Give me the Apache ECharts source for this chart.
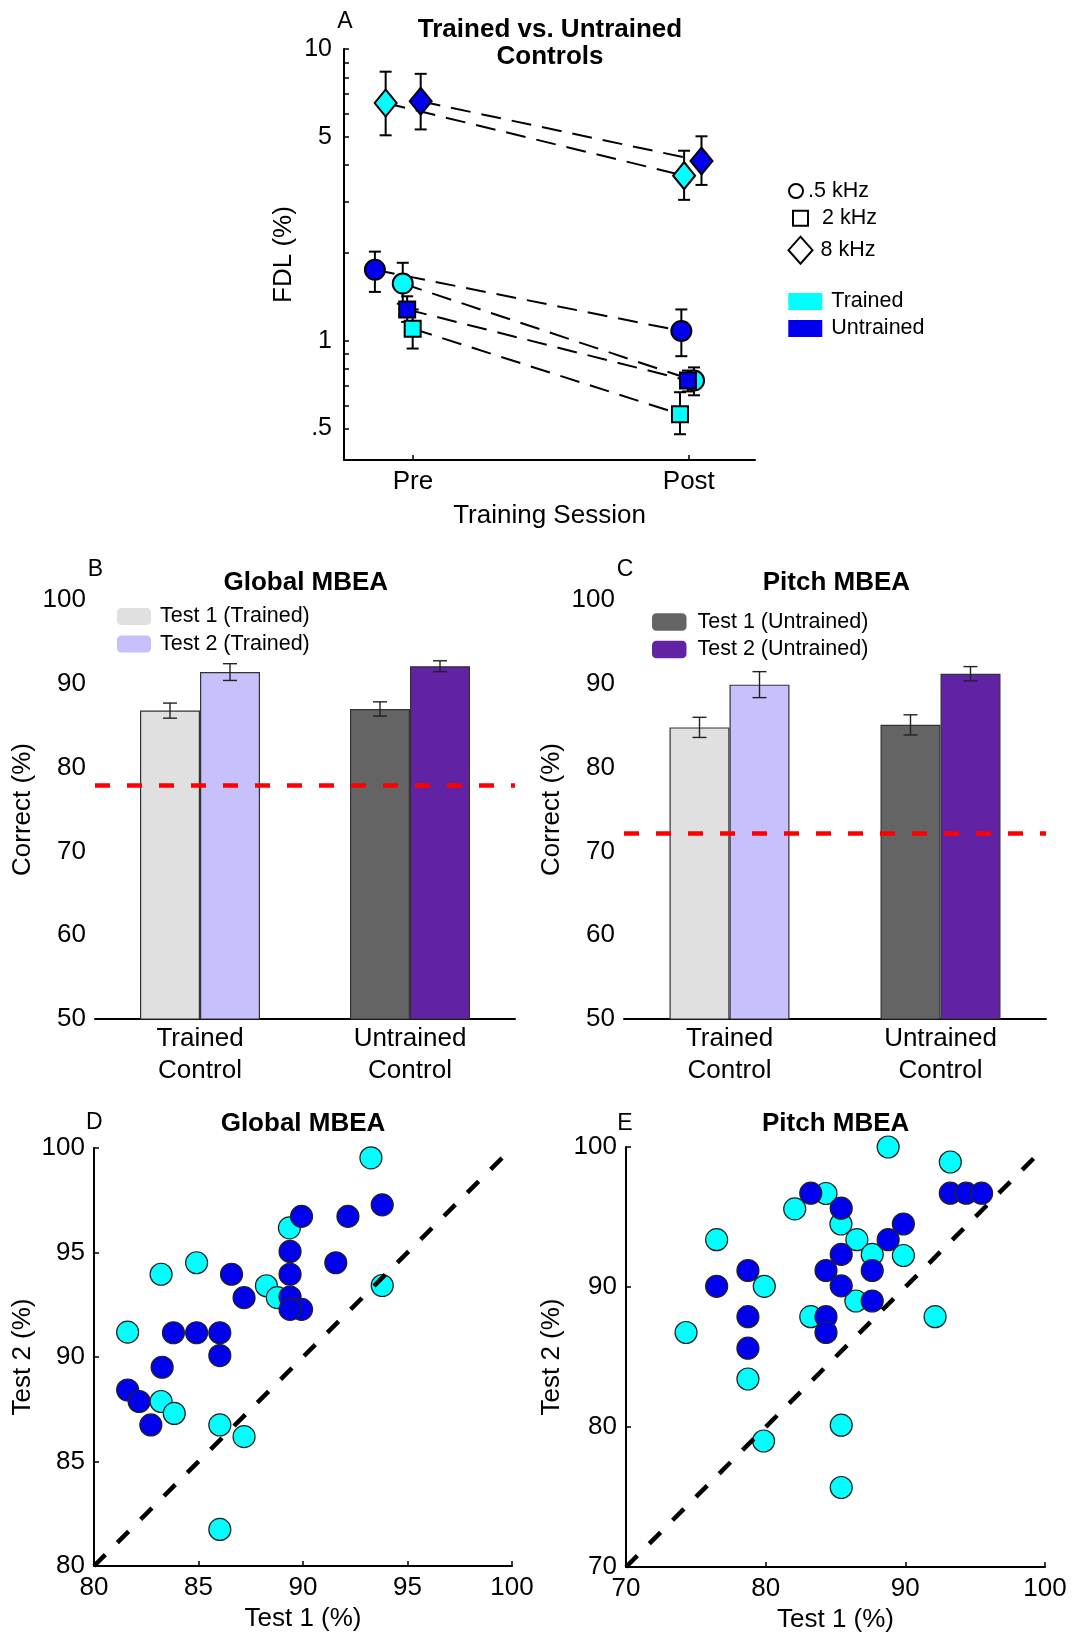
<!DOCTYPE html>
<html>
<head>
<meta charset="utf-8">
<script src="https://cdn.jsdelivr.net/npm/echarts@6/dist/echarts.min.js"></script>
<style>
  html, body { margin: 0; padding: 0; background: #fff; }
  #chart { width: 1073px; height: 1640px; }
</style>
</head>
<body>
<div id="chart"></div>
<script>
// ---------- data ----------
// Panel A: FDL (%) per group; x = session (1 = Pre, 2 = Post) plus the jitter seen in the figure
const sessionTicks = [1, 2];
const sessionLabels = ['Pre', 'Post'];
const fdlLabelTicks = [0.5, 1, 5, 10];
const fdlMinorTicks = [0.5, 0.6, 0.7, 0.8, 0.9, 1, 2, 3, 4, 5, 6, 7, 8, 9, 10];

const fdlNames = ['.5 kHz Trained', '.5 kHz Untrained', '2 kHz Trained', '2 kHz Untrained', '8 kHz Trained', '8 kHz Untrained'];
const fdlX = [[0.963, 2.019], [0.862, 1.973], [0.999, 1.968], [0.979, 1.997], [0.901, 1.983], [1.028, 2.046]];
const fdlMean = [[1.57, 0.73], [1.75, 1.08], [1.10, 0.56], [1.28, 0.73], [6.53, 3.68], [6.62, 4.13]];
const fdlLow = [[1.34, 0.65], [1.47, 0.885], [0.94, 0.478], [1.16, 0.67], [5.06, 3.04], [5.30, 3.42]];
const fdlHigh = [[1.85, 0.81], [2.02, 1.28], [1.28, 0.666], [1.42, 0.79], [8.36, 4.48], [8.22, 5.02]];

// Panels B / C: MBEA percent correct
const mbeaGroups = ['Trained\nControl', 'Untrained\nControl'];
const globalTest1 = [86.8, 87.0];
const globalTest1Se = [0.9, 0.85];
const globalTest2 = [91.4, 92.1];
const globalTest2Se = [1.0, 0.65];
const globalChance = 77.9;
const pitchTest1 = [84.8, 85.1];
const pitchTest1Se = [1.2, 1.2];
const pitchTest2 = [89.9, 91.2];
const pitchTest2Se = [1.55, 0.85];
const pitchChance = 72.2;

// Panels D / E: individual Test 1 vs Test 2 scores
const globalTrained = [
  [93.25, 99.53], [93.79, 93.42], [89.35, 96.18], [84.91, 94.51], [83.21, 93.96],
  [88.25, 93.41], [88.77, 92.84], [81.61, 91.19], [83.21, 87.87], [83.84, 87.30],
  [86.02, 86.75], [87.18, 86.19], [86.02, 81.75]
];
const globalUntrained = [
  [89.93, 96.73], [92.15, 96.73], [93.79, 97.28], [89.38, 95.05], [91.57, 94.51],
  [89.38, 93.96], [86.58, 93.96], [87.18, 92.84], [89.38, 92.87], [89.93, 92.28],
  [89.38, 92.28], [83.80, 91.16], [84.91, 91.16], [86.02, 91.16], [86.02, 90.07],
  [83.26, 89.51], [79.97, 88.98], [81.61, 88.42], [82.16, 87.87], [82.72, 86.75]
];
const pitchTrained = [
  [88.77, 100.0], [93.22, 98.93], [84.32, 96.68], [82.08, 95.58], [85.39, 94.50],
  [76.49, 93.38], [86.53, 93.38], [87.63, 92.33], [89.86, 92.25], [79.90, 90.05],
  [86.46, 89.00], [83.23, 87.88], [92.13, 87.88], [74.30, 86.75], [78.73, 83.43],
  [85.41, 80.13], [79.85, 79.00], [85.41, 75.68]
];
const pitchUntrained = [
  [83.23, 96.70], [93.22, 96.70], [94.36, 96.70], [95.46, 96.70], [85.41, 95.63],
  [89.86, 94.50], [88.77, 93.38], [85.41, 92.33], [84.32, 91.18], [87.63, 91.18],
  [78.73, 91.18], [76.49, 90.05], [85.41, 90.08], [87.63, 89.00], [78.73, 87.88],
  [84.32, 87.88], [84.32, 86.75], [78.73, 85.63]
];
const identityLineGlobal = [[80, 80], [100, 100]];
const identityLinePitch = [[70, 70], [100, 100]];

// ---------- styles ----------
const FONT = '"Liberation Sans", Arial, sans-serif';
const CYAN = '#00ffff';
const BLUE = '#0000ee';
const fdlColors = [CYAN, BLUE, CYAN, BLUE, CYAN, BLUE];
const fdlSymbols = ['circle', 'circle', 'rect', 'rect', 'diamond', 'diamond'];
const fdlSizes = [20, 20, 16, 16, [22, 27], [22, 27]];
const test1Colors = ['#e0e0e0', '#646464'];
const test2Colors = ['#c6c0fc', '#6222a4'];

function errorBar(capHalf, lineWidth, color, offsetPx) {
  return function (params, api) {
    const x = api.value(0);
    const lo = api.coord([x, api.value(1)]);
    const hi = api.coord([x, api.value(2)]);
    const px = lo[0] + offsetPx;
    const style = { stroke: color, lineWidth: lineWidth, fill: null };
    return {
      type: 'group',
      children: [
        { type: 'line', shape: { x1: px, y1: lo[1], x2: px, y2: hi[1] }, style: style },
        { type: 'line', shape: { x1: px - capHalf, y1: lo[1], x2: px + capHalf, y2: lo[1] }, style: style },
        { type: 'line', shape: { x1: px - capHalf, y1: hi[1], x2: px + capHalf, y2: hi[1] }, style: style }
      ]
    };
  };
}

function axisBase(extra) {
  return Object.assign({
    axisLine: { onZero: false, lineStyle: { color: '#000', width: 2 } },
    axisTick: { inside: true, length: 5, lineStyle: { color: '#000', width: 1.5 } },
    splitLine: { show: false },
    axisLabel: { color: '#000', fontSize: 26, fontFamily: FONT, margin: 9 },
    nameLocation: 'middle',
    nameTextStyle: { color: '#000', fontSize: 26, fontFamily: FONT }
  }, extra);
}

// cy = centre of the first text line
function panelTitle(text, cx, cy, bold, size, lineHeight) {
  return {
    text: text,
    left: cx,
    top: cy - lineHeight / 2 + 2,
    textAlign: 'center',
    padding: 0,
    textStyle: {
      fontFamily: FONT, color: '#000', fontSize: size,
      fontWeight: bold ? 'bold' : 'normal', lineHeight: lineHeight
    }
  };
}

function legendItem(name, left, centerY, w, h, itemStyle, padLeft) {
  return {
    data: [name],
    left: left,
    top: centerY - 12,
    padding: 0,
    itemWidth: w,
    itemHeight: h,
    selectedMode: false,
    itemStyle: Object.assign({ opacity: 1 }, itemStyle),
    textStyle: { fontFamily: FONT, fontSize: 21.5, color: '#000', lineHeight: 24, padding: [0, 0, 0, padLeft] }
  };
}

// ---------- series ----------
const series = [];

// Panel A: dashed connecting lines, error bars, markers
fdlNames.forEach(function (name, i) {
  const pts = [0, 1].map(function (k) { return [fdlX[i][k], fdlMean[i][k]]; });
  series.push({
    type: 'line', xAxisIndex: 0, yAxisIndex: 0, z: 2,
    data: pts, showSymbol: false, silent: true,
    lineStyle: { color: '#000', width: 2, type: [20, 11] }
  });
  series.push({
    type: 'custom', xAxisIndex: 0, yAxisIndex: 0, z: 3, silent: true,
    renderItem: errorBar(6, 2, '#000', 0),
    encode: { x: 0, y: [1, 2] },
    data: [0, 1].map(function (k) { return [fdlX[i][k], fdlLow[i][k], fdlHigh[i][k]]; })
  });
  series.push({
    type: 'scatter', name: name, xAxisIndex: 0, yAxisIndex: 0, z: 4,
    data: pts, symbol: fdlSymbols[i], symbolSize: fdlSizes[i],
    itemStyle: { color: fdlColors[i], borderColor: '#000', borderWidth: 2, opacity: 1 }
  });
});
// legend-only series for panel A
[['.5 kHz', 'circle'], ['2 kHz', 'rect'], ['8 kHz', 'diamond']].forEach(function (d) {
  series.push({ type: 'scatter', name: d[0], xAxisIndex: 0, yAxisIndex: 0, data: [], symbol: d[1],
    itemStyle: { color: '#fff', borderColor: '#000', borderWidth: 2, opacity: 1 } });
});
[['Trained', CYAN], ['Untrained', BLUE]].forEach(function (d) {
  series.push({ type: 'scatter', name: d[0], xAxisIndex: 0, yAxisIndex: 0, data: [], symbol: 'rect',
    itemStyle: { color: d[1], opacity: 1 } });
});

// Panels B / C: bars, error bars, chance line
function barPanel(axisIdx, names, t1, t1se, t2, t2se, chance, legendColors) {
  series.push({
    type: 'bar', name: names[0], xAxisIndex: axisIdx, yAxisIndex: axisIdx,
    barWidth: 60, barGap: '0%', z: 2,
    itemStyle: { color: legendColors[0], borderColor: '#333', borderWidth: 1.2 },
    data: t1.map(function (v, k) { return { value: v, itemStyle: { color: test1Colors[k] } }; }),
    markLine: {
      silent: true, symbol: ['none', 'none'], label: { show: false }, z: 6,
      lineStyle: { color: '#ff0000', width: 4.5, type: [15, 17] },
      emphasis: { disabled: true },
      data: [{ yAxis: chance }]
    }
  });
  series.push({
    type: 'bar', name: names[1], xAxisIndex: axisIdx, yAxisIndex: axisIdx,
    barWidth: 60, barGap: '0%', z: 2,
    itemStyle: { color: legendColors[1], borderColor: '#333', borderWidth: 1.2 },
    data: t2.map(function (v, k) { return { value: v, itemStyle: { color: test2Colors[k] } }; })
  });
  series.push({
    type: 'custom', xAxisIndex: axisIdx, yAxisIndex: axisIdx, z: 4, silent: true,
    renderItem: errorBar(7, 1.4, '#222', -30), encode: { x: 0, y: [1, 2] },
    data: t1.map(function (v, k) { return [k, v - t1se[k], v + t1se[k]]; })
  });
  series.push({
    type: 'custom', xAxisIndex: axisIdx, yAxisIndex: axisIdx, z: 4, silent: true,
    renderItem: errorBar(7, 1.4, '#222', 30), encode: { x: 0, y: [1, 2] },
    data: t2.map(function (v, k) { return [k, v - t2se[k], v + t2se[k]]; })
  });
}
barPanel(1, ['Test 1 (Trained)', 'Test 2 (Trained)'], globalTest1, globalTest1Se, globalTest2, globalTest2Se,
  globalChance, [test1Colors[0], test2Colors[0]]);
barPanel(2, ['Test 1 (Untrained)', 'Test 2 (Untrained)'], pitchTest1, pitchTest1Se, pitchTest2, pitchTest2Se,
  pitchChance, [test1Colors[1], test2Colors[1]]);

// Panels D / E: scatter + identity line
function scatterPanel(axisIdx, trained, untrained, diag) {
  series.push({
    type: 'scatter', xAxisIndex: axisIdx, yAxisIndex: axisIdx, z: 2, data: trained,
    symbolSize: 22, itemStyle: { color: CYAN, borderColor: '#222', borderWidth: 1.2, opacity: 1 }
  });
  series.push({
    type: 'scatter', xAxisIndex: axisIdx, yAxisIndex: axisIdx, z: 3, data: untrained,
    symbolSize: 22, itemStyle: { color: BLUE, borderColor: '#222', borderWidth: 1.2, opacity: 1 }
  });
  series.push({
    type: 'line', xAxisIndex: axisIdx, yAxisIndex: axisIdx, z: 5, data: diag,
    showSymbol: false, silent: true,
    lineStyle: { color: '#000', width: 4.5, type: [16, 17] }
  });
}
scatterPanel(3, globalTrained, globalUntrained, identityLineGlobal);
scatterPanel(4, pitchTrained, pitchUntrained, identityLinePitch);

// ---------- option ----------
const option = {
  animation: false,
  backgroundColor: '#fff',
  textStyle: { fontFamily: FONT },
  title: [
    panelTitle('A', 345, 20, false, 23, 26),
    panelTitle('Trained vs. Untrained\nControls', 550, 28.2, true, 26, 27),
    panelTitle('B', 95.5, 568, false, 23, 26),
    panelTitle('Global MBEA', 305.8, 581.3, true, 26, 28),
    panelTitle('C', 625, 568, false, 23, 26),
    panelTitle('Pitch MBEA', 836.4, 581.3, true, 26, 28),
    panelTitle('D', 94.3, 1121, false, 23, 26),
    panelTitle('Global MBEA', 303, 1122.3, true, 26, 28),
    panelTitle('E', 625, 1121.6, false, 23, 26),
    panelTitle('Pitch MBEA', 835.7, 1122.3, true, 26, 28)
  ],
  legend: [
    legendItem('.5 kHz', 788, 191, 14, 14, { color: '#fff', borderColor: '#000', borderWidth: 2 }, 0),
    legendItem('2 kHz', 792, 218.3, 15, 15, { color: '#fff', borderColor: '#000', borderWidth: 2 }, 9),
    legendItem('8 kHz', 787.5, 247.7, 24, 27, { color: '#fff', borderColor: '#000', borderWidth: 2 }, 3),
    legendItem('Trained', 788.3, 301.5, 34, 17, { color: CYAN, borderWidth: 0 }, 4),
    legendItem('Untrained', 788.3, 328.5, 34, 17, { color: BLUE, borderWidth: 0 }, 4),
    {
      data: ['Test 1 (Trained)', 'Test 2 (Trained)'], orient: 'vertical',
      left: 117, top: 604.4, padding: 0, itemGap: 3.6, itemWidth: 34, itemHeight: 17,
      selectedMode: false, itemStyle: { borderWidth: 0 },
      textStyle: { fontFamily: FONT, fontSize: 21.5, color: '#000', lineHeight: 24, padding: [0, 0, 0, 4] }
    },
    {
      data: ['Test 1 (Untrained)', 'Test 2 (Untrained)'], orient: 'vertical',
      left: 652, top: 610, padding: 0, itemGap: 3.5, itemWidth: 34.5, itemHeight: 17.5,
      selectedMode: false, itemStyle: { borderWidth: 0 },
      textStyle: { fontFamily: FONT, fontSize: 21.5, color: '#000', lineHeight: 24, padding: [0, 0, 0, 6] }
    }
  ],
  grid: [
    { left: 344, top: 49, width: 411, height: 411 },
    { left: 95, top: 600, width: 420, height: 419 },
    { left: 624, top: 600, width: 422, height: 419 },
    { left: 94, top: 1148, width: 418, height: 418 },
    { left: 626, top: 1147, width: 419, height: 420 }
  ],
  xAxis: [
    axisBase({
      gridIndex: 0, type: 'value', min: 0.75, max: 2.24,
      name: 'Training Session', nameGap: 43,
      axisTick: { inside: true, length: 5, lineStyle: { color: '#000', width: 1.5 }, customValues: sessionTicks },
      axisLabel: {
        color: '#000', fontSize: 26, fontFamily: FONT, margin: 9, customValues: sessionTicks,
        formatter: function (v) { return sessionLabels[sessionTicks.indexOf(v)]; }
      }
    }),
    axisBase({
      gridIndex: 1, type: 'category', data: mbeaGroups,
      axisTick: { inside: true, alignWithLabel: true, length: 5, lineStyle: { color: '#000', width: 1.5 } },
      axisLabel: { color: '#000', fontSize: 26, fontFamily: FONT, margin: 4, lineHeight: 32, interval: 0 }
    }),
    axisBase({
      gridIndex: 2, type: 'category', data: mbeaGroups,
      axisTick: { inside: true, alignWithLabel: true, length: 5, lineStyle: { color: '#000', width: 1.5 } },
      axisLabel: { color: '#000', fontSize: 26, fontFamily: FONT, margin: 4, lineHeight: 32, interval: 0 }
    }),
    axisBase({ gridIndex: 3, type: 'value', min: 80, max: 100, interval: 5, name: 'Test 1 (%)', nameGap: 40 }),
    axisBase({ gridIndex: 4, type: 'value', min: 70, max: 100, interval: 10, name: 'Test 1 (%)', nameGap: 40 })
  ],
  yAxis: [
    axisBase({
      gridIndex: 0, type: 'log', logBase: 10, min: 0.39, max: 10,
      name: 'FDL (%)', nameGap: 47,
      axisTick: { inside: true, length: 5, lineStyle: { color: '#000', width: 1.5 }, customValues: fdlMinorTicks },
      axisLabel: {
        color: '#000', fontSize: 25, fontFamily: FONT, margin: 12, customValues: fdlLabelTicks,
        formatter: function (v) { return v < 1 ? String(v).replace(/^0/, '') : String(v); }
      }
    }),
    axisBase({ gridIndex: 1, type: 'value', min: 50, max: 100, interval: 10, name: 'Correct (%)', nameGap: 59 }),
    axisBase({ gridIndex: 2, type: 'value', min: 50, max: 100, interval: 10, name: 'Correct (%)', nameGap: 59 }),
    axisBase({ gridIndex: 3, type: 'value', min: 80, max: 100, interval: 5, name: 'Test 2 (%)', nameGap: 58 }),
    axisBase({ gridIndex: 4, type: 'value', min: 70, max: 100, interval: 10, name: 'Test 2 (%)', nameGap: 61 })
  ],
  series: series
};

const chart = echarts.init(document.getElementById('chart'), null, { renderer: 'canvas' });
chart.setOption(option);
</script>
</body>
</html>
